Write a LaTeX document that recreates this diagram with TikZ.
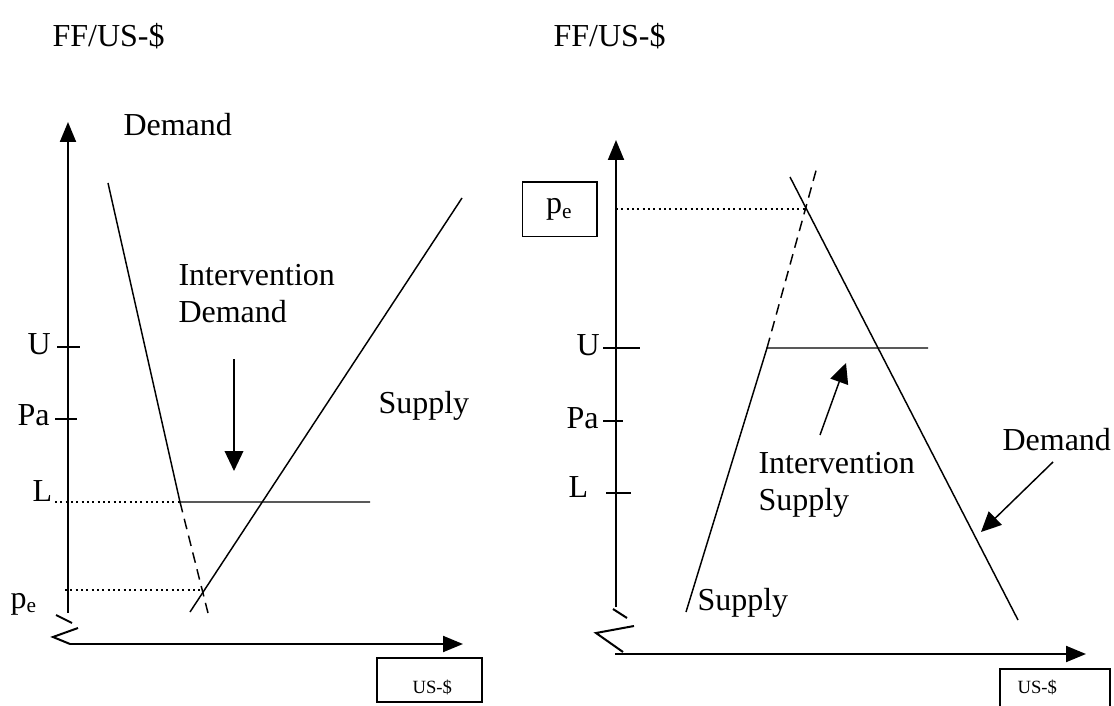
\documentclass[tikz,border=0pt]{standalone}
\usepackage{fontspec}
\setmainfont{Liberation Serif}
\usetikzlibrary{arrows.meta}

\begin{document}
\begin{tikzpicture}[
  x=0.375pt, y=-0.375pt,
  every node/.style={font=\fontsize{12}{13.75}\selectfont, inner sep=0pt},
  axisline/.style={line width=0.75pt, -{Triangle[length=7.5pt, width=6pt]}},
  curveline/.style={line width=0.55pt},
  dashline/.style={line width=0.55pt, dash pattern=on 4pt off 2.5pt},
  dotline/.style={line width=0.4pt, dash pattern=on 0.8pt off 1.2pt},
  tickline/.style={line width=0.55pt},
  breakline/.style={line width=0.75pt},
  pointer/.style={line width=0.55pt, -{Triangle[length=7.5pt, width=7pt]}},
  unitlabel/.style={font=\fontsize{7}{8}\selectfont},
]
\useasboundingbox (0,0) rectangle (1114,706);

% left panel: intervention demand
\node[anchor=base west] (ttlL) at (52,47) {FF/US-\$};
\draw[axisline] (68,613) -- (68,122);
\draw[axisline] (70,644) -- (463,644);
\draw[breakline] (56,615) -- (72,623);
\draw[breakline] (78,628) -- (53,637) -- (70,644);
\draw[line width=0.5pt] (377,658) rectangle (482,702);
\node[unitlabel, anchor=base west] (usdL) at (412,693) {US-\$};

\coordinate (dTopL) at (108,183);
\coordinate (dKinkL) at (180,502);
\coordinate (dEndL) at (208,613);
\coordinate (sLowL) at (190,612);
\coordinate (sTopL) at (462,198);
\coordinate (hEndL) at (370,502);
\coordinate (eqL) at (203,590);

\draw[curveline] (dTopL) -- (dKinkL) -- (hEndL);
\draw[dashline] (dKinkL) -- (dEndL);
\draw[curveline] (sLowL) -- (sTopL);
\draw[dotline] (55,502) -- (dKinkL);
\draw[dotline] (65,590) -- (eqL);

\draw[tickline] (57,347) -- (80,347);
\draw[tickline] (55,419) -- (77,419);
\node[anchor=base west] (uL) at (27,354) {U};
\node[anchor=base west] (paL) at (17,425) {Pa};
\node[anchor=base west] (lL) at (32,501) {L};
\node[anchor=base west] (peL) at (10,608) {p\textsubscript{e}};

\node[anchor=base west] (demL) at (123,135) {Demand};
\node[anchor=base west] (supL) at (378,413) {Supply};
\node[anchor=north west, align=left] (intD) at (178,264) {Intervention\\Demand};
\coordinate (intDtip) at (234,471);
\draw[pointer] (234,359) -- (intDtip);

% right panel: intervention supply
\node[anchor=base west] (ttlR) at (553,47) {FF/US-\$};
\draw[axisline] (616,607) -- (616,140);
\draw[axisline] (615,654) -- (1086,654);
\draw[breakline] (613,609) -- (627,618);
\draw[breakline] (634,626) -- (596,633) -- (623,652);
\draw[line width=0.5pt] (1000,669) rectangle (1110,712);
\node[unitlabel, anchor=base west] (usdR) at (1017,693) {US-\$};

\node[draw, line width=0.5pt, minimum width=28pt, minimum height=20.5pt] (peR) at (559.5,209.5) {p\textsubscript{e}};

\coordinate (sLowR) at (686,612);
\coordinate (sKinkR) at (767,348);
\coordinate (sTopR) at (817,167);
\coordinate (dTopR) at (790,177);
\coordinate (dLowR) at (1018,620);
\coordinate (hEndR) at (928,348);
\coordinate (eqR) at (806,209);

\draw[curveline] (sLowR) -- (sKinkR) -- (hEndR);
\draw[dashline] (sKinkR) -- (sTopR);
\draw[curveline] (dTopR) -- (dLowR);
\draw[dotline] (616,209) -- (eqR);

\draw[tickline] (603,348) -- (640,348);
\draw[tickline] (603,421) -- (623,421);
\draw[tickline] (606,493) -- (631,493);
\node[anchor=base west] (uR) at (576,355) {U};
\node[anchor=base west] (paR) at (566,428) {Pa};
\node[anchor=base west] (lR) at (568,497) {L};

\node[anchor=base west] (supR) at (697,610) {Supply};
\node[anchor=base west] (demR) at (1002,450) {Demand};
\node[anchor=north west, align=left] (intS) at (758,452) {Intervention\\Supply};
\draw[pointer] (820,435) -- (846,363);
\draw[pointer] (1053,462) -- (981,532);
\end{tikzpicture}
\end{document}
